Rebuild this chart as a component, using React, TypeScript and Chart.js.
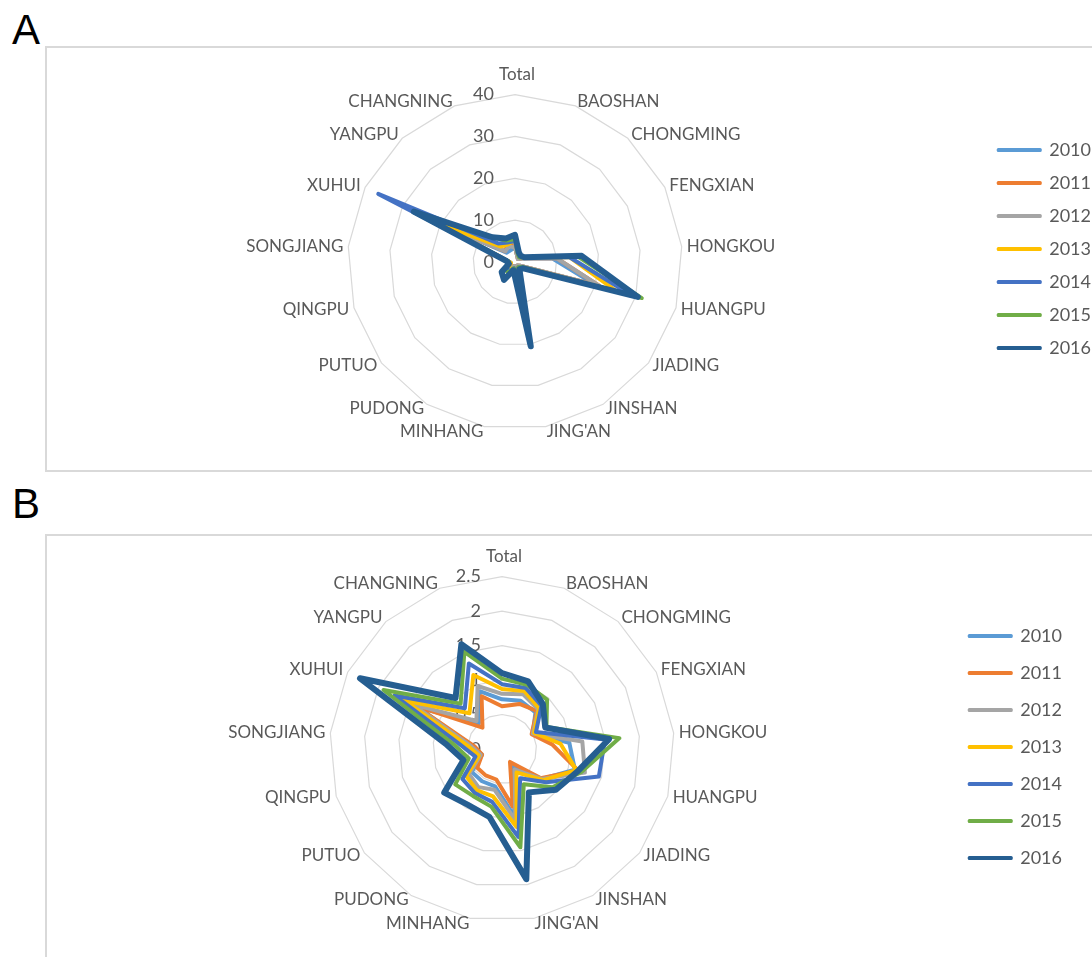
import React, { useEffect, useRef } from 'react';
import { Chart, registerables } from 'chart.js';

Chart.register(...registerables);

const categories = ['Total', 'BAOSHAN', 'CHONGMING', 'FENGXIAN', 'HONGKOU', 'HUANGPU', 'JIADING', 'JINSHAN', "JING'AN", 'MINHANG', 'PUDONG', 'PUTUO', 'QINGPU', 'SONGJIANG', 'XUHUI', 'YANGPU', 'CHANGNING'];
const years = ['2010', '2011', '2012', '2013', '2014', '2015', '2016'];
const colors = ['#5B9BD5', '#ED7D31', '#A5A5A5', '#FFC000', '#4472C4', '#70AD47', '#255E91'];

const ticksA = [0, 10, 20, 30, 40];
const ticksB = [0, 0.5, 1, 1.5, 2, 2.5];

// Panel A values
const a2010 = [3.5, 1.5, 1, 2, 9, 20, 1.5, 1, 2.5, 1, 1.5, 1.5, 1, 1.5, 22, 3, 3];
const a2011 = [3.5, 1.5, 1, 2, 10, 21, 1.5, 1, 2.5, 1, 1.5, 1.5, 1, 1.5, 20, 3.5, 4.8];
const a2012 = [3.5, 1.5, 1, 2, 10, 21, 1.5, 1, 3, 1, 2, 2, 1, 1.5, 20, 3.5, 4];
const a2013 = [5.3, 2, 1.5, 2.5, 13, 25, 2, 1.5, 4, 1.5, 2, 2, 1, 1.5, 21, 5, 4.5];
const a2014 = [5, 2, 1.5, 2.5, 13, 29, 2, 1.5, 6, 1.5, 2.5, 2.5, 1.5, 1.5, 36.5, 6, 5];
const a2015 = [5.5, 2, 1.5, 2.5, 15, 31.5, 2, 1.5, 16, 1.5, 3, 3, 1.5, 1.5, 27, 8, 5.5];
const a2016 = [6.5, 2.5, 2, 2.5, 16, 30.5, 2.5, 2, 20.5, 2, 5, 4, 1.5, 2, 27, 8, 6];

// Panel B values
const b2010 = [0.72, 0.75, 0.72, 0.5, 0.98, 1.1, 0.72, 0.3, 1.0, 0.55, 0.55, 0.55, 0.3, 0.45, 1.35, 0.5, 0.9];
const b2011 = [0.62, 0.7, 0.75, 0.48, 0.73, 1.15, 0.7, 0.22, 0.85, 0.45, 0.45, 0.45, 0.3, 0.4, 1.4, 0.42, 0.82];
const b2012 = [0.8, 0.85, 0.78, 0.5, 1.17, 1.25, 0.72, 0.35, 1.05, 0.6, 0.65, 0.6, 0.32, 0.45, 1.45, 0.55, 0.98];
const b2013 = [0.87, 0.9, 0.8, 0.52, 0.85, 1.12, 0.75, 0.4, 1.15, 0.7, 0.7, 0.65, 0.35, 0.5, 1.58, 0.7, 1.15];
const b2014 = [0.94, 0.95, 0.85, 0.55, 1.5, 1.46, 0.8, 0.5, 1.3, 0.78, 0.75, 0.72, 0.4, 0.6, 1.74, 0.8, 1.33];
const b2015 = [1.02, 1.0, 0.97, 0.72, 1.71, 1.2, 0.92, 0.6, 1.45, 0.85, 0.8, 0.85, 0.5, 0.7, 1.92, 0.89, 1.51];
const b2016 = [1.1, 1.05, 0.88, 0.7, 1.56, 1.15, 0.98, 0.74, 1.92, 1.0, 0.95, 1.05, 0.58, 0.82, 2.3, 1.0, 1.63];

const seriesA = [a2010, a2011, a2012, a2013, a2014, a2015, a2016];
const seriesB = [b2010, b2011, b2012, b2013, b2014, b2015, b2016];

const FONT = 'Lato, "Open Sans", sans-serif';
const TEXT = '#595959';
const GRID = '#d9d9d9';

// Tick values drawn left of the vertical axis, as in the original
const leftTicks = {
  id: 'leftTicks',
  beforeDatasetsDraw(chart: any, _args: any, opts: any) {
    const s = chart.scales.r;
    const ctx = chart.ctx;
    ctx.save();
    ctx.font = `18px ${FONT}`;
    ctx.fillStyle = TEXT;
    ctx.textAlign = 'right';
    ctx.textBaseline = 'middle';
    for (const t of opts.values) {
      const y = s.yCenter - s.getDistanceFromCenterForValue(t);
      ctx.fillText(String(t), s.xCenter - opts.offset, y);
    }
    ctx.restore();
  },
};

// Category labels centred vertically on their spoke, as in the original
const sideLabels = {
  id: 'sideLabels',
  afterDraw(chart: any) {
    const s = chart.scales.r;
    const ctx = chart.ctx;
    const n = categories.length;
    ctx.save();
    ctx.font = `17px ${FONT}`;
    ctx.fillStyle = TEXT;
    for (let i = 0; i < n; i++) {
      if (i === 0) {
        ctx.textAlign = 'center';
        ctx.textBaseline = 'alphabetic';
        ctx.fillText(categories[i], s.xCenter + 2, s.yCenter - s.drawingArea - 15);
        continue;
      }
      const p = s.getPointPosition(i, s.drawingArea + 5);
      const deg = (i * 360) / n;
      ctx.textAlign = deg < 180 ? 'left' : 'right';
      ctx.textBaseline = 'middle';
      ctx.fillText(categories[i], p.x, p.y);
    }
    ctx.restore();
  },
};

function makeConfig(series: number[][], tickVals: number[], step: number, pad: any, legendPad: number) {
  return {
    type: 'radar',
    data: {
      labels: categories,
      datasets: series.map((vals, i) => ({
        label: years[i],
        data: vals,
        borderColor: colors[i],
        backgroundColor: colors[i],
        borderWidth: i === 6 ? 6 : 4,
        borderJoinStyle: 'round',
        fill: false,
        pointRadius: 0,
        pointHoverRadius: 0,
        tension: 0,
        order: 6 - i,
      })),
    },
    options: {
      responsive: false,
      animation: false,
      layout: { padding: pad },
      scales: {
        r: {
          min: tickVals[0],
          max: tickVals[tickVals.length - 1],
          beginAtZero: true,
          ticks: { display: false, stepSize: step },
          grid: { color: GRID, lineWidth: 1.2, circular: false },
          angleLines: { display: false },
          pointLabels: { color: 'rgba(0,0,0,0)', font: { family: FONT, size: 18 }, padding: 5 },
        },
      },
      plugins: {
        tooltip: { enabled: false },
        leftTicks: { values: tickVals, offset: 21 },
        legend: {
          position: 'right',
          align: 'start',
          title: { display: true, text: '', padding: { top: 44.6, bottom: 0 } },
          labels: {
            boxWidth: 42,
            boxHeight: 1,
            padding: legendPad,
            color: TEXT,
            font: { family: FONT, size: 18 },
            sort: (a: any, b: any) => a.datasetIndex - b.datasetIndex,
            generateLabels: (chart: any) =>
              (Chart.defaults.plugins.legend.labels.generateLabels as any)(chart).map((it: any) => ({
                ...it,
                fillStyle: colors[it.datasetIndex],
                strokeStyle: colors[it.datasetIndex],
                lineWidth: 3,
              })),
          },
        },
      },
    },
    plugins: [leftTicks, sideLabels],
  } as any;
}

function RadarPanel(props: { series: number[][]; ticks: number[]; step: number; left: number; top: number; width: number; height: number; pad: any; legendPad: number }) {
  const ref = useRef<HTMLCanvasElement | null>(null);
  useEffect(() => {
    if (!ref.current) return;
    const chart = new Chart(ref.current, makeConfig(props.series, props.ticks, props.step, props.pad, props.legendPad));
    return () => chart.destroy();
  }, []);
  return (
    <canvas
      ref={ref}
      width={props.width}
      height={props.height}
      style={{ position: 'absolute', left: props.left, top: props.top, width: props.width, height: props.height }}
    />
  );
}

const letterStyle: React.CSSProperties = {
  position: 'absolute',
  left: 12,
  fontFamily: '"Liberation Sans", Arial, sans-serif',
  fontSize: 42,
  lineHeight: '42px',
  color: '#000',
};

export default function App() {
  return (
    <div style={{ position: 'absolute', left: 0, top: 0, width: 1092, height: 957, overflow: 'hidden', background: '#fff' }}>
      <div style={{ ...letterStyle, top: 9 }}>A</div>
      <div style={{ ...letterStyle, top: 483 }}>B</div>
      <div style={{ position: 'absolute', left: 45, top: 46, width: 1100, height: 426, border: `2px solid ${GRID}`, boxSizing: 'border-box' }} />
      <div style={{ position: 'absolute', left: 45, top: 534, width: 1100, height: 500, border: `2px solid ${GRID}`, boxSizing: 'border-box' }} />
      <RadarPanel series={seriesA} ticks={ticksA} step={10} left={47} top={48} width={1054} height={422} pad={{ top: 19, bottom: 15, left: 1.5, right: 0 }} legendPad={15} />
      <RadarPanel series={seriesB} ticks={ticksB} step={0.5} left={47} top={536} width={1025} height={430} pad={{ top: 13, bottom: 19, left: 8.5, right: 0 }} legendPad={19} />
    </div>
  );
}
